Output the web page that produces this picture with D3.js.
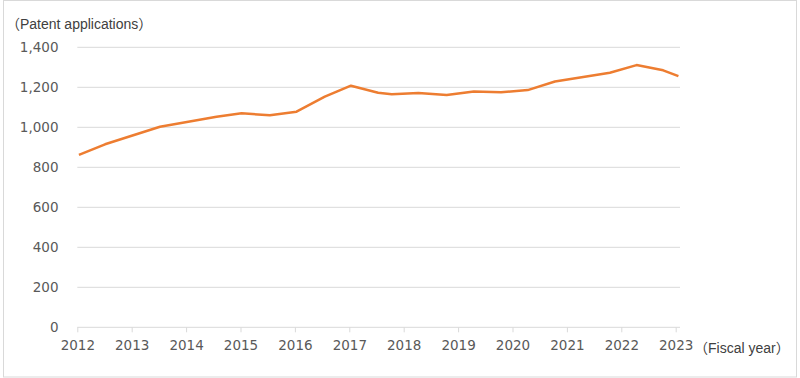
<!DOCTYPE html>
<html>
<head>
<meta charset="utf-8">
<script src="https://cdn.jsdelivr.net/npm/d3@7"></script>
<style>
  body { margin: 0; background: #fff; }
  svg { display: block; }
</style>
</head>
<body>
<div id="chart"></div>
<script>
// data (x = position along the fiscal-year axis)
var pointYears = [2012.03, 2012.51, 2013.0, 2013.52, 2014.04, 2014.56, 2015.02, 2015.54,
  2016.03, 2016.55, 2017.03, 2017.53, 2017.78, 2018.27, 2018.79, 2019.29, 2019.79,
  2020.28, 2020.78, 2021.3, 2021.79, 2022.28, 2022.77, 2023.05];
var applications = [862, 915, 958, 1003, 1028, 1053, 1070, 1060,
  1078, 1153, 1208, 1173, 1165, 1171, 1161, 1179, 1175,
  1186, 1229, 1252, 1273, 1311, 1285, 1256];
var yearTicks = [2012, 2013, 2014, 2015, 2016, 2017, 2018, 2019, 2020, 2021, 2022, 2023];
var valueTicks = [0, 200, 400, 600, 800, 1000, 1200, 1400];

var W = 800, H = 378;
var plotLeft = 77.3, plotRight = 675.7, gridRight = 680, plotTop = 47.3, plotBottom = 327.3;

var svg = d3.select("#chart")
  .append("svg")
    .attr("width", W)
    .attr("height", H);

// outer frame
svg.append("rect")
  .attr("x", 3.5).attr("y", 0.5)
  .attr("width", 793).attr("height", 376.5)
  .attr("fill", "none")
  .attr("stroke", "#d9d9d9");

var x = d3.scaleLinear().domain([2012, 2023]).range([plotLeft, plotRight]);
var y = d3.scaleLinear().domain([0, 1400]).range([plotBottom, plotTop]);

// gridlines
svg.append("g")
  .selectAll("line")
  .data(valueTicks)
  .enter()
  .append("line")
    .attr("x1", plotLeft)
    .attr("x2", gridRight)
    .attr("y1", d => y(d))
    .attr("y2", d => y(d))
    .attr("stroke", "#d9d9d9")
    .attr("stroke-width", 1);

// y labels
svg.append("g")
  .selectAll("text")
  .data(valueTicks)
  .enter()
  .append("text")
    .attr("x", 58.5)
    .attr("y", d => y(d))
    .attr("dy", "0.36em")
    .attr("text-anchor", "end")
    .style("font-family", "DejaVu Sans")
    .style("font-size", "13.5px")
    .style("fill", "#595959")
    .text(d => d3.format(",")(d));

// x axis
var xAxis = svg.append("g")
  .attr("transform", "translate(0," + plotBottom + ")")
  .call(d3.axisBottom(x).tickValues(yearTicks).tickFormat(d3.format("d")).tickSize(5).tickPadding(8));
xAxis.select(".domain").remove();
xAxis.selectAll(".tick line").attr("stroke", "#d9d9d9");
xAxis.selectAll(".tick text")
  .style("font-family", "DejaVu Sans")
  .style("font-size", "13.5px")
  .style("fill", "#595959");

// line
var line = d3.line()
  .x((d, i) => x(pointYears[i]))
  .y(d => y(d));

svg.append("path")
  .datum(applications)
  .attr("d", line)
  .attr("fill", "none")
  .attr("stroke", "#ED7D31")
  .attr("stroke-width", 2.5)
  .attr("stroke-linejoin", "round");

// axis titles, full-width brackets from the CJK font
function bracketed(xp, yp, label) {
  var t = svg.append("text")
    .attr("x", xp)
    .attr("y", yp)
    .style("font-family", "'Liberation Sans', Arial")
    .style("font-size", "14px")
    .style("fill", "#404040");
  t.append("tspan").style("font-family", "'Noto Sans CJK JP'").text("（");
  t.append("tspan").text(label);
  t.append("tspan").style("font-family", "'Noto Sans CJK JP'").text("）");
}
bracketed(6, 29, "Patent applications");
bracketed(694, 353, "Fiscal year");
</script>
</body>
</html>
